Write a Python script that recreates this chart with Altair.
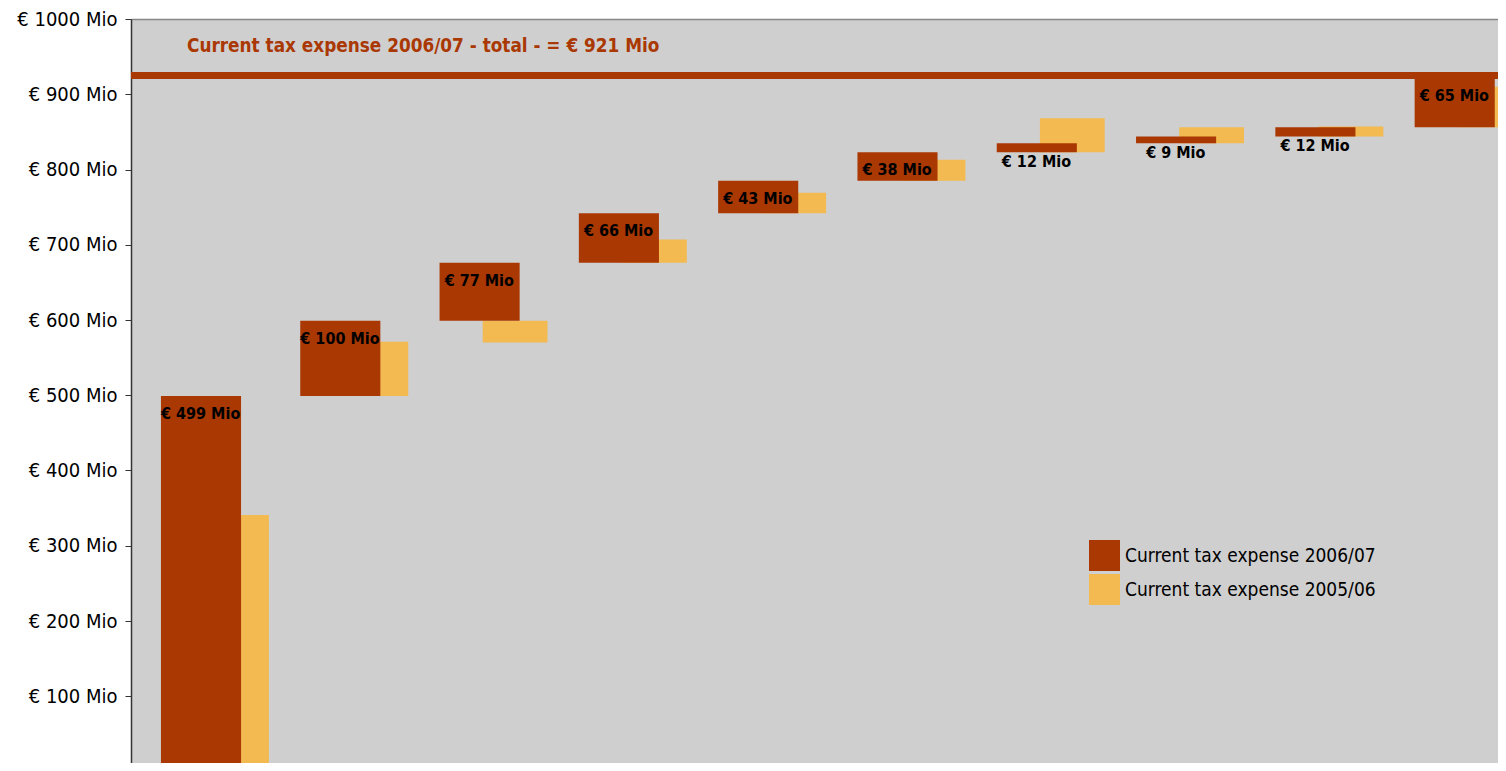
import altair as alt
import pandas as pd

# ---- data ----
slots = list(range(10))
cur_values = [499, 100, 77, 66, 43, 38, 12, 9, 12, 65]      # 2006/07 steps
prev_values = [341, 72, -29, 31, 27, 28, 45, 21, 13, 54]    # 2005/06 bars (from same base)
series_names = ["Current tax expense 2006/07", "Current tax expense 2005/06"]
total_value = 921
y_ticks = list(range(0, 1001, 100))

RED = "#AA3803"
YEL = "#F2BA50"
BG = "#CFCFCF"
FONT = "DejaVu Sans Condensed, Liberation Sans Narrow, DejaVu Sans, sans-serif"

df = pd.DataFrame({"slot": slots, "cur": cur_values, "prev": prev_values})
df["base"] = df["cur"].cumsum() - df["cur"]
df["label"] = ["€ %d Mio" % v for v in cur_values]

# visible window of the (cropped) original plot area
VIEW_W, VIEW_H = 1367, 744
SLOT_PX = 139.3
PX_PER_UNIT = 0.7525
xscale = alt.Scale(domain=[0, VIEW_W / SLOT_PX], nice=False, zero=False)
yscale = alt.Scale(domain=[1000 - VIEW_H / PX_PER_UNIT, 1000], nice=False, zero=False)

color = alt.Color(
    "series:N",
    scale=alt.Scale(domain=series_names, range=[RED, YEL]),
    legend=alt.Legend(
        orient="none", legendX=958, legendY=521, title=None,
        symbolType="square", symbolSize=961, symbolStrokeWidth=0, symbolOpacity=1,
        labelFontSize=19, labelFont=FONT, labelColor="black", labelLimit=0,
        rowPadding=3, labelOffset=5, padding=0,
    ),
)

yaxis = alt.Axis(
    values=y_ticks, labelExpr="'€ ' + datum.value + ' Mio'", title=None, grid=False,
    tickSize=6, tickColor="#333333", labelPadding=8, labelFontSize=20, labelFont=FONT,
    labelColor="black", domainColor="#333333", domainWidth=1.5,
)
# top border of the plot area only (the rest is cropped in the reference)
xaxis_top = alt.Axis(orient="top", labels=False, ticks=False, grid=False, title=None,
                     domainColor="#888888", domainWidth=1.5)

base = alt.Chart(df)

yellow = base.transform_calculate(
    series=f"'{series_names[1]}'",
    xa="datum.slot + 0.525", xb="datum.slot + 0.99",
    ya="datum.base", yb="datum.base + datum.prev",
).mark_bar(clip=True).encode(
    x=alt.X("xa:Q", scale=xscale, axis=xaxis_top),
    x2="xb:Q",
    y=alt.Y("ya:Q", scale=yscale, axis=yaxis),
    y2="yb:Q",
    color=color,
)

red = base.transform_calculate(
    series=f"'{series_names[0]}'",
    xa="datum.slot + 0.215", xb="datum.slot + 0.79",
    ya="datum.base", yb="datum.base + datum.cur",
).mark_bar(clip=True).encode(
    x=alt.X("xa:Q", scale=xscale),
    x2="xb:Q",
    y=alt.Y("ya:Q", scale=yscale),
    y2="yb:Q",
    color=color,
)

lab_in = base.transform_filter("datum.cur >= 20").transform_calculate(
    xc="datum.slot + 0.5", yt="datum.base + datum.cur"
).mark_text(baseline="middle", align="center", dy=18, font=FONT, fontSize=16,
            fontWeight="bold", color="black").encode(
    x=alt.X("xc:Q", scale=xscale), y=alt.Y("yt:Q", scale=yscale), text="label:N")

lab_out = base.transform_filter("datum.cur < 20").transform_calculate(
    xc="datum.slot + 0.5", yt="datum.base"
).mark_text(baseline="middle", align="center", dy=10, font=FONT, fontSize=16,
            fontWeight="bold", color="black").encode(
    x=alt.X("xc:Q", scale=xscale), y=alt.Y("yt:Q", scale=yscale), text="label:N")

total_rule = alt.Chart(pd.DataFrame({"t": [total_value]})).mark_rule(
    color=RED, strokeWidth=7, yOffset=-3
).encode(y=alt.Y("t:Q", scale=yscale))

title_text = f"Current tax expense 2006/07 - total - = € {total_value} Mio"
title = alt.Chart(pd.DataFrame({"t": [title_text]})).mark_text(
    align="left", baseline="middle", font=FONT, fontSize=18.8, fontWeight="bold", color=RED
).encode(x=alt.value(56), y=alt.value(27), text="t:N")

chart = alt.layer(yellow, red, total_rule, lab_in, lab_out, title).properties(
    width=VIEW_W, height=VIEW_H,
    autosize=alt.AutoSizeParams(type="none"),
    padding={"left": 123, "top": 11, "right": 0, "bottom": 0},
    background="white",
).configure_view(fill=BG, strokeWidth=0)

chart.save("out.html", embed_options={"renderer": "svg", "actions": False})
